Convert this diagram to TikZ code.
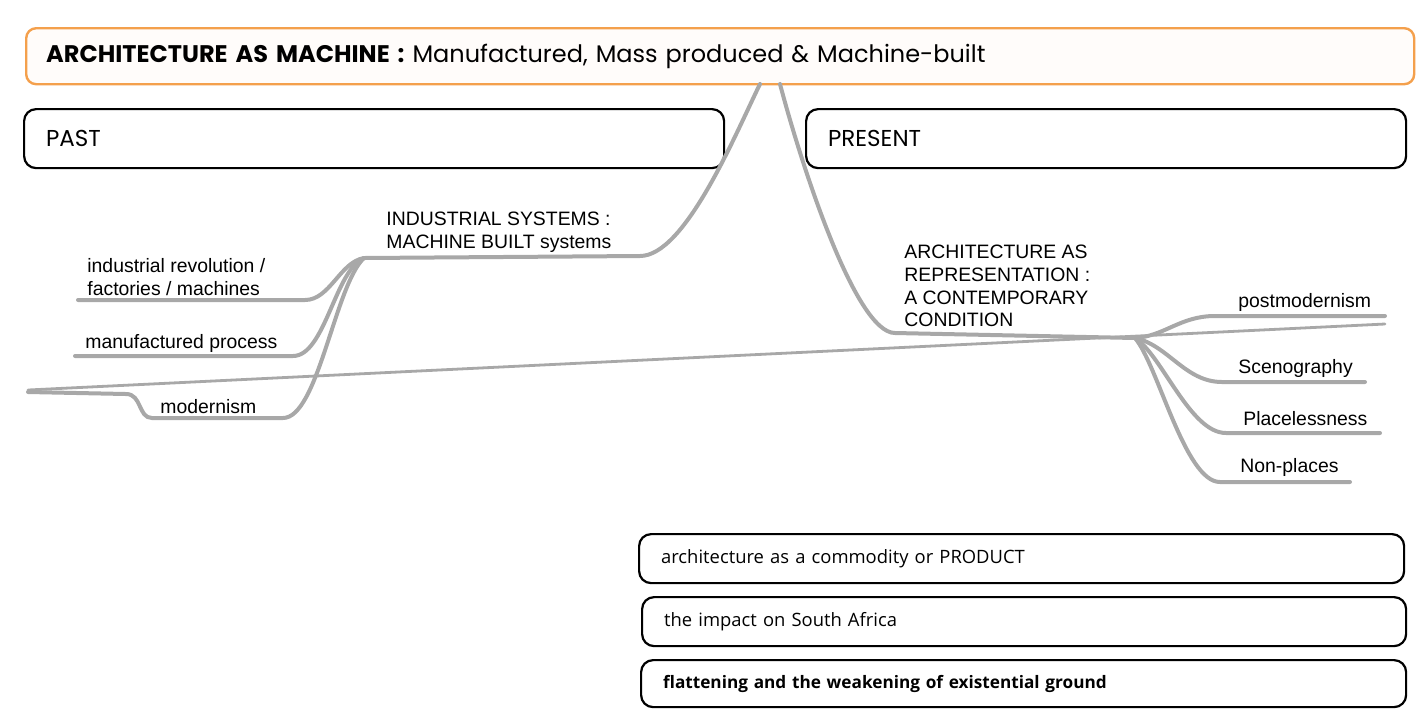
\documentclass[tikz,border=0pt]{standalone}
\usepackage{fontspec}
\setmainfont{Liberation Sans}
\newfontfamily\titlefont{Poppins}
\newfontfamily\boxfont{Open Sans}
\definecolor{titleorange}{RGB}{244,160,76}
\definecolor{branchgray}{RGB}{168,168,168}
\tikzstyle{titlebox} = [draw=titleorange, fill=titleorange!3, line width=1.2pt, rounded corners=5pt, anchor=north west, inner xsep=10pt, align=left, font=\titlefont\fontsize{12}{14}\selectfont]
\tikzstyle{erabox} = [draw, line width=1.1pt, rounded corners=6pt, anchor=north west, inner xsep=11pt, align=left, minimum height=29.5pt, font=\titlefont\fontsize{11.5}{13}\selectfont]
\tikzstyle{notebox} = [draw, line width=1.1pt, rounded corners=6pt, anchor=north west, inner xsep=11pt, align=left, minimum height=24.5pt, font=\boxfont\fontsize{9.2}{11}\selectfont]
\tikzstyle{topic} = [anchor=west, inner sep=0pt, align=left, font=\fontsize{9.7}{11.4}\selectfont]
\tikzstyle{branch} = [draw=branchgray, line width=2pt, line cap=round]
\tikzstyle{axis} = [draw=branchgray, line width=1.4pt, line cap=round]

\begin{document}
\begin{tikzpicture}[x=0.5pt,y=-0.5pt]
\useasboundingbox (0,0) rectangle (1420,709);
% headings
\node[titlebox, minimum width=694pt, minimum height=28pt, text width=674pt] (title) at (25,27)
	{{\bfseries ARCHITECTURE AS MACHINE :} Manufactured, Mass produced \& Machine-built};
\node[erabox, minimum width=350pt, text width=328pt] (past) at (23,108) {PAST};
\node[erabox, minimum width=300pt, text width=278pt] (present) at (805,108) {PRESENT};

% the two branches
\coordinate (apexL) at (760,84);
\coordinate (apexR) at (780,84);
\coordinate (indsys) at (640,256);
\coordinate (pastfork) at (364,258);
\coordinate (revEnd) at (78,300);
\coordinate (manEnd) at (75,356);
\coordinate (modEnd) at (28,392);
\coordinate (reprStart) at (895,333);
\coordinate (presfork) at (1135,338);
\coordinate (postEnd) at (1385,316);
\coordinate (scenEnd) at (1365,382);
\coordinate (placeEnd) at (1380,433);
\coordinate (nonEnd) at (1350,482);
\coordinate (axisL) at (28,390);
\coordinate (axisR) at (1385,324);

\draw[axis] (axisL) -- (axisR);
\draw[branch] (apexL) .. controls (735,135) and (685,256) .. (indsys) -- (pastfork);
\draw[branch] (pastfork) .. controls (340,262) and (330,300) .. (305,300) -- (revEnd);
\draw[branch] (pastfork) .. controls (335,270) and (325,356) .. (293,356) -- (manEnd);
\draw[branch] (pastfork) .. controls (335,285) and (318,418) .. (283,418) -- (152,418)
	.. controls (138,418) and (142,394) .. (126,394) -- (modEnd);
\draw[branch] (apexR) .. controls (800,160) and (855,333) .. (reprStart) -- (presfork);
\draw[branch] (presfork) .. controls (1165,336) and (1180,316) .. (1215,316) -- (postEnd);
\draw[branch] (presfork) .. controls (1168,345) and (1185,382) .. (1222,382) -- (scenEnd);
\draw[branch] (presfork) .. controls (1162,355) and (1190,433) .. (1226,433) -- (placeEnd);
\draw[branch] (presfork) .. controls (1158,365) and (1185,482) .. (1220,482) -- (nonEnd);

% labels
\node[topic] (indsystxt) at (386,232) {INDUSTRIAL SYSTEMS :\\MACHINE BUILT systems};
\node[topic] (revtxt) at (87,277) {industrial revolution /\\factories / machines};
\node[topic] (mantxt) at (85,343) {manufactured process};
\node[topic] (modtxt) at (160,407) {modernism};
\node[topic] (reprtxt) at (904,286) {ARCHITECTURE AS\\REPRESENTATION :\\A CONTEMPORARY\\CONDITION};
\node[topic] (posttxt) at (1238,302) {postmodernism};
\node[topic] (scentxt) at (1238,368) {Scenography};
\node[topic] (placetxt) at (1243,419) {Placelessness};
\node[topic] (nontxt) at (1240,467) {Non-places};

% notes
\node[notebox, minimum width=382.5pt, text width=360.5pt] (product) at (638,533) {architecture as a commodity or PRODUCT};
\node[notebox, minimum width=382pt, text width=360pt] (impact) at (641,596) {the impact on South Africa};
\node[notebox, minimum width=382.5pt, text width=360.5pt, minimum height=23.5pt, font=\boxfont\fontsize{8.6}{10}\selectfont\bfseries] (flatten) at (640,659) {flattening and the weakening of existential ground};
\end{tikzpicture}
\end{document}
